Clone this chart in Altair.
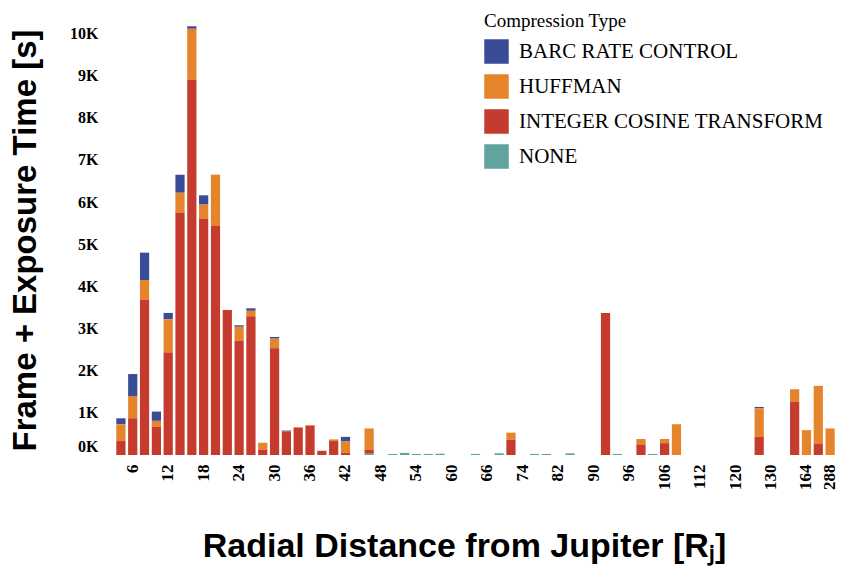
import altair as alt
import pandas as pd

# Distance bins (ordinal categories, left to right)
categories = ["4", "6", "8", "10", "12", "14", "16", "18", "20", "22",
              "24", "26", "28", "30", "32", "34", "36", "38", "40", "42",
              "44", "46", "48", "50", "52", "54", "56", "58", "60", "62",
              "64", "66", "68", "70", "74", "76", "78", "82", "84", "86",
              "90", "92", "94", "96", "100", "104", "106", "108", "110", "112",
              "114", "116", "120", "124", "126", "130", "140", "152", "164", "200",
              "288"]

# Seconds per compression type, one value per category
none_vals = [0, 0, 0, 0, 0, 0, 0, 0, 0, 0,
             0, 0, 0, 0, 0, 0, 0, 0, 0, 0,
             0, 30, 0, 25, 50, 25, 25, 30, 0, 0,
             25, 0, 40, 0, 0, 25, 25, 0, 40, 0,
             0, 0, 25, 0, 0, 25, 0, 0, 0, 0,
             0, 0, 0, 0, 0, 0, 0, 0, 0, 0,
             0]
ict_vals = [330, 870, 3690, 670, 2430, 5750, 8910, 5610, 5430, 3440,
            2710, 3290, 120, 2530, 560, 640, 690, 100, 330, 50,
            0, 90, 0, 0, 0, 0, 0, 0, 0, 0,
            0, 0, 0, 360, 0, 0, 0, 0, 0, 0,
            0, 3370, 0, 0, 250, 0, 280, 0, 0, 0,
            0, 0, 0, 0, 430, 0, 0, 1260, 0, 260,
            0]
huff_vals = [400, 530, 460, 140, 790, 470, 1200, 330, 1220, 0,
             330, 130, 170, 230, 0, 20, 20, 0, 40, 270,
             0, 510, 0, 0, 0, 0, 0, 0, 0, 0,
             0, 0, 0, 170, 0, 0, 0, 0, 0, 0,
             0, 0, 0, 0, 130, 0, 100, 730, 0, 0,
             0, 0, 0, 0, 680, 0, 0, 300, 590, 1380,
             630]
barc_vals = [140, 520, 650, 220, 150, 430, 60, 220, 0, 0,
             40, 60, 0, 40, 20, 0, 0, 0, 0, 110,
             0, 0, 0, 0, 0, 0, 0, 0, 0, 0,
             0, 0, 0, 0, 0, 0, 0, 0, 0, 0,
             0, 0, 0, 0, 0, 0, 0, 0, 0, 0,
             0, 0, 0, 0, 30, 0, 0, 0, 0, 0,
             0]

label_values = ["6", "12", "18", "24", "30", "36", "42", "48", "54", "60",
                "66", "74", "82", "90", "96", "106", "112", "120", "130", "164",
                "288"]
y_ticks = [0, 1000, 2000, 3000, 4000, 5000, 6000, 7000, 8000, 9000, 10000]

types = ["BARC RATE CONTROL", "HUFFMAN", "INTEGER COSINE TRANSFORM", "NONE"]
colors = ["#3b4c96", "#e5842a", "#c53b2d", "#62a3a0"]
stack_rank = {"NONE": 0, "INTEGER COSINE TRANSFORM": 1, "HUFFMAN": 2, "BARC RATE CONTROL": 3}

series = {
    "BARC RATE CONTROL": barc_vals,
    "HUFFMAN": huff_vals,
    "INTEGER COSINE TRANSFORM": ict_vals,
    "NONE": none_vals,
}

rows = []
for t, vals in series.items():
    for c, v in zip(categories, vals):
        if v > 0:
            rows.append({"dist": c, "ctype": t, "time": v, "rank": stack_rank[t]})
df = pd.DataFrame(rows)

chart = alt.Chart(df).mark_bar().encode(
    x=alt.X(
        "dist:N",
        scale=alt.Scale(domain=categories, paddingInner=0.22, paddingOuter=0.11),
        axis=alt.Axis(
            values=label_values, labelAngle=-90,
            labelFont="Liberation Serif", labelFontWeight="bold", labelFontSize=17,
            labelColor="black", ticks=False, tickSize=0, domain=False, labelPadding=9,
            title="Radial Distance from Jupiter [Rⱼ]",
            titleFont="Liberation Sans", titleFontSize=34, titleFontWeight="bold",
            titleColor="black", titlePadding=40, titleX=349, titleAlign="center",
        ),
    ),
    y=alt.Y(
        "time:Q", stack="zero",
        scale=alt.Scale(domain=[0, 10200], nice=False),
        axis=alt.Axis(
            values=y_ticks, labelExpr="datum.value / 1000 + 'K'", labelFlush=True,
            grid=False, ticks=False, tickSize=0, domain=False, labelPadding=17,
            labelFont="Liberation Serif", labelFontWeight="bold", labelFontSize=16,
            labelColor="black",
            title="Frame + Exposure Time [s]",
            titleFont="Liberation Sans", titleFontSize=33, titleFontWeight="bold",
            titleColor="black", titlePadding=27,
        ),
    ),
    color=alt.Color(
        "ctype:N",
        scale=alt.Scale(domain=types, range=colors),
        legend=alt.Legend(
            title="Compression Type", orient="none", legendX=369, legendY=-13,
            titleFont="Liberation Serif", titleFontSize=19, titleFontWeight="normal",
            titleColor="black", titlePadding=8,
            labelFont="Liberation Serif", labelFontSize=21, labelColor="black",
            labelLimit=400, labelOffset=10,
            symbolType="square", symbolSize=600, symbolStrokeWidth=0,
            symbolOpacity=1, rowPadding=10,
        ),
    ),
    order=alt.Order("rank:Q", sort="ascending"),
).properties(
    width=alt.Step(11.82), height=430,
    padding={"left": 9, "top": 12, "right": 5, "bottom": 5},
).configure_view(stroke=None)

chart.save("out.html", embed_options={"renderer": "svg", "actions": False})
